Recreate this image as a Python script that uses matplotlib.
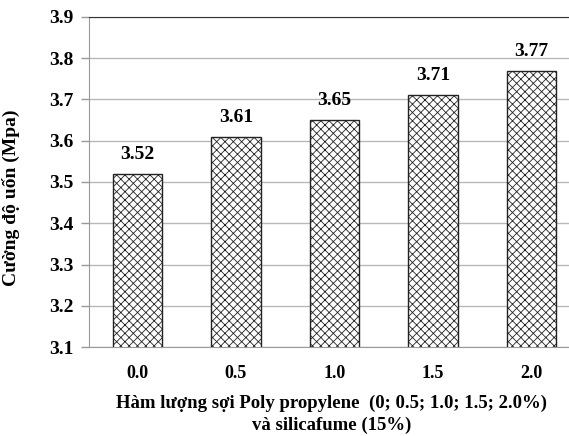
import matplotlib
matplotlib.use('Agg')
import matplotlib.pyplot as plt

# data
categories = ['0.0', '0.5', '1.0', '1.5', '2.0']
strength = [3.52, 3.61, 3.65, 3.71, 3.77]
y_ticks = [3.1, 3.2, 3.3, 3.4, 3.5, 3.6, 3.7, 3.8, 3.9]

plt.rcParams['font.family'] = ['Liberation Serif', 'DejaVu Serif']
plt.rcParams['font.weight'] = 'bold'
plt.rcParams['hatch.linewidth'] = 0.6

fig = plt.figure(figsize=(5.69, 4.36), dpi=100)
ax = fig.add_axes([89 / 569, 89 / 436, 491 / 569, 330 / 436])

x = range(len(categories))
bars = ax.bar(x, strength, width=0.5, bottom=0, color='white',
              edgecolor='#222222', linewidth=1.0, hatch='xxxx', zorder=3)

for xi, v in zip(x, strength):
    ax.annotate(f'{v:.2f}', (xi, v), xytext=(0, 8), textcoords='offset points',
                ha='center', va='bottom', fontsize=14, fontweight='bold')

ax.set_ylim(3.1, 3.9)
ax.set_xlim(-0.49, 4.49)
ax.set_yticks(y_ticks)
ax.set_yticklabels([f'{t:.1f}' for t in y_ticks])
ax.set_xticks(list(x))
ax.set_xticklabels(categories)
ax.tick_params(axis='y', length=6, color='#999999', width=1, labelsize=14, pad=5)
ax.tick_params(axis='x', length=0, labelsize=13, pad=13)

ax.grid(axis='y', color='#b8b8b8', linewidth=1.0, zorder=0)
ax.set_axisbelow(True)
for side in ['left', 'bottom']:
    ax.spines[side].set_color('#999999')
ax.spines['top'].set_color('#333333')
ax.spines['right'].set_visible(False)

ax.set_ylabel('Cường độ uốn (Mpa)', fontsize=14, fontweight='bold')
ax.yaxis.set_label_coords(-(89 - 20) / 491, (347 - 198) / 330)
ax.set_xlabel('Hàm lượng sợi Poly propylene  (0; 0.5; 1.0; 1.5; 2.0%)\nvà silicafume (15%)',
              fontsize=13.5, fontweight='bold', linespacing=1.3)
ax.xaxis.set_label_coords((332 - 89) / 491, -(395 - 347) / 330)

fig.savefig('out.png', dpi=100)
